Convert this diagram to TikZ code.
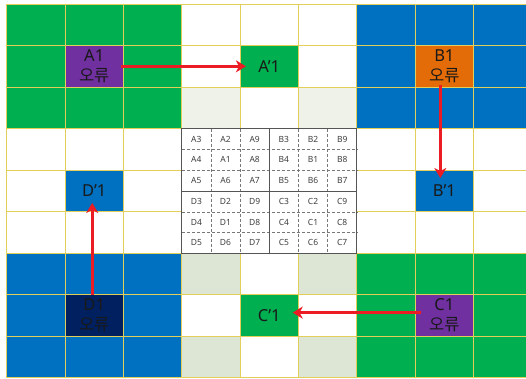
\documentclass[tikz,border=0pt]{standalone}
\usepackage{fontspec}
\setmainfont{Noto Sans}
\newfontfamily\kr{Noto Sans CJK KR}
\usetikzlibrary{arrows.meta}
\definecolor{cG}{HTML}{00B050}
\definecolor{cB}{HTML}{0070C0}
\definecolor{cP}{HTML}{7030A0}
\definecolor{cO}{HTML}{E36C09}
\definecolor{cN}{HTML}{002060}
\definecolor{cLT}{HTML}{EFF2E9}
\definecolor{cLB}{HTML}{DDE5D4}
\definecolor{cGrid}{HTML}{E2CF5A}
\definecolor{cArrow}{HTML}{EC1C24}
\definecolor{cTab}{HTML}{555555}
\definecolor{cTxt}{HTML}{404040}
\def\cw{58.35}
\def\rh{41.55}
\def\ox{6.7}
\def\oy{4}
\tikzset{
  cellbox/.style={minimum width=58.35pt, minimum height=41.55pt, inner sep=0pt, align=center,
    text=black!90, font=\fontsize{16.5}{20}\selectfont},
  gridline/.style={draw=cGrid, line width=1pt},
  redarrow/.style={draw=cArrow, line width=2.6pt, -{Stealth[length=10pt,width=12pt,inset=3pt]}},
  tabtext/.style={text=cTxt, font=\fontsize{8.5}{9}\selectfont, inner sep=0pt},
}
\newcommand{\blk}[3]{\fill[#3] ({\ox+#2*\cw},{\oy+#1*\rh}) rectangle ++(3*\cw,3*\rh);}
\newcommand{\cel}[3]{\fill[#3] ({\ox+#2*\cw},{\oy+#1*\rh}) rectangle ++(\cw,\rh);}
\begin{document}
\begin{tikzpicture}[x=1pt,y=-1pt]
\useasboundingbox (0,0) rectangle (526,378);
\fill[white] (0,0) rectangle (526,378);
\begin{scope}
\clip (0,0) rectangle (526,378);
% blocks
\blk{0}{0}{cG}
\blk{0}{6}{cB}
\blk{6}{0}{cB}
\blk{6}{6}{cG}
\cel{2}{3}{cLT}
\cel{2}{5}{cLT}
\cel{6}{3}{cLB}
\cel{6}{5}{cLB}
\cel{8}{3}{cLB}
\cel{8}{5}{cLB}
% labelled cells
\node[cellbox, fill=cP] (A1) at ({\ox+1.5*\cw},{\oy+1.5*\rh}) {A1\\{\kr 오류}};
\node[cellbox, fill=cG] (A1p) at ({\ox+4.5*\cw},{\oy+1.5*\rh}) {A’1};
\node[cellbox, fill=cO] (B1) at ({\ox+7.5*\cw},{\oy+1.5*\rh}) {B1\\{\kr 오류}};
\node[cellbox, fill=cB] (B1p) at ({\ox+7.5*\cw},{\oy+4.5*\rh}) {B’1};
\node[cellbox, fill=cP] (C1) at ({\ox+7.5*\cw},{\oy+7.5*\rh}) {C1\\{\kr 오류}};
\node[cellbox, fill=cG] (C1p) at ({\ox+4.5*\cw},{\oy+7.5*\rh}) {C’1};
\node[cellbox, fill=cN] (D1) at ({\ox+1.5*\cw},{\oy+7.5*\rh}) {D1\\{\kr 오류}};
\node[cellbox, fill=cB] (D1p) at ({\ox+1.5*\cw},{\oy+4.5*\rh}) {D’1};
% grid
\foreach \i in {0,...,9} {
  \draw[gridline] ({\ox+\i*\cw},\oy) -- ({\ox+\i*\cw},{\oy+9*\rh});
  \draw[gridline] (\ox,{\oy+\i*\rh}) -- ({\ox+9*\cw},{\oy+\i*\rh});
}
\end{scope}
% table
\pgfmathsetmacro{\tx}{\ox+3*\cw}
\pgfmathsetmacro{\ty}{\oy+3*\rh}
\pgfmathsetmacro{\tw}{\cw/2}
\pgfmathsetmacro{\th}{\rh/2}
\fill[white] (\tx,\ty) rectangle ++(3*\cw,3*\rh);
\foreach \i in {1,2,4,5} {
  \draw[cTab!80, line width=0.5pt, densely dashed] ({\tx+\i*\tw},\ty) -- ++(0,3*\rh);
  \draw[cTab!80, line width=0.5pt, densely dashed] (\tx,{\ty+\i*\th}) -- ++(3*\cw,0);
}
\draw[cTab, line width=0.8pt] ({\tx+3*\tw},\ty) -- ++(0,3*\rh);
\draw[cTab, line width=0.8pt] (\tx,{\ty+3*\th}) -- ++(3*\cw,0);
\draw[cTab, line width=0.9pt] (\tx,\ty) rectangle ++(3*\cw,3*\rh);
\foreach \row [count=\r from 0] in {{A3,A2,A9,B3,B2,B9},{A4,A1,A8,B4,B1,B8},{A5,A6,A7,B5,B6,B7},{D3,D2,D9,C3,C2,C9},{D4,D1,D8,C4,C1,C8},{D5,D6,D7,C5,C6,C7}} {
  \foreach \t [count=\c from 0] in \row {
    \node[tabtext] (t-\r-\c) at ({\tx+(\c+0.5)*\tw},{\ty+(\r+0.5)*\th}) {\t};
  }
}
% arrows
\draw[redarrow, shorten <=-3pt, shorten >=-6pt] (A1.east) -- (A1p.west);
\draw[redarrow, shorten <=-2pt, shorten >=-8pt] ([xshift=-4pt]B1.south) -- ([xshift=-4pt]B1p.north);
\draw[redarrow, shorten <=-6pt, shorten >=-6pt] ([yshift=3pt]C1.west) -- ([yshift=3pt]C1p.east);
\draw[redarrow, shorten <=0pt, shorten >=-9pt] ([xshift=-2pt]D1.north) -- ([xshift=-2pt]D1p.south);
\end{tikzpicture}
\end{document}
